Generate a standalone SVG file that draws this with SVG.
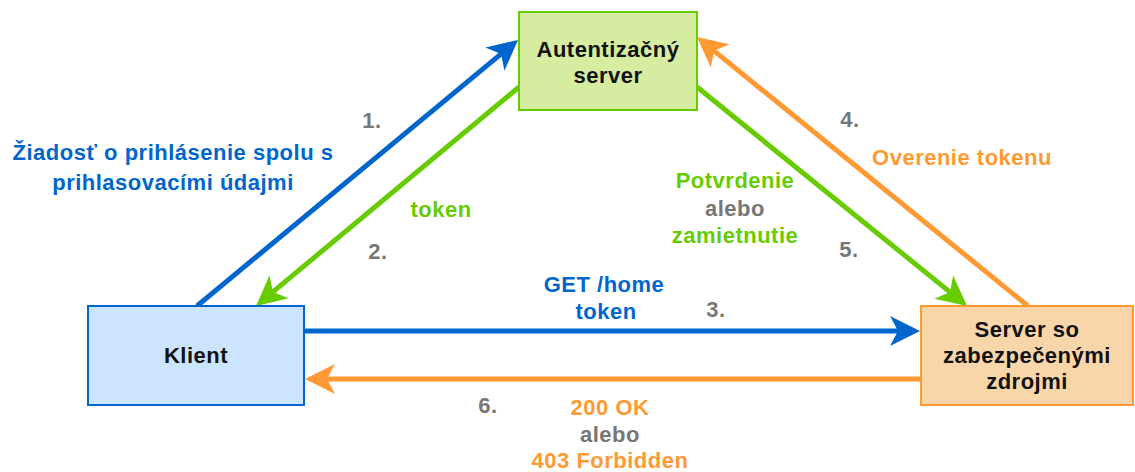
<svg xmlns="http://www.w3.org/2000/svg" width="1135" height="472" viewBox="0 0 1135 472">
  <defs>
    <style>
      text { font-family: "Liberation Sans", Arial, Helvetica, sans-serif; font-weight: bold; font-size: 22px; letter-spacing: 0.5px; text-anchor: middle; }
      .dark { fill: #111111; }
      .blue { fill: #0066cc; }
      .green { fill: #66cc00; }
      .orange { fill: #ff9933; }
      .gray { fill: #777777; }
      .edge { fill: none; stroke-width: 5; }
      .e-blue { stroke: #0066cc; marker-end: url(#head-blue); }
      .e-green { stroke: #66cc00; marker-end: url(#head-green); }
      .e-orange { stroke: #ff9933; marker-end: url(#head-orange); }
    </style>
    <!-- concave arrowheads; the tip sits 20px beyond the line end -->
    <marker id="head-blue" viewBox="-12 -17 34 34" refX="0" refY="0" markerWidth="34" markerHeight="34" markerUnits="userSpaceOnUse" orient="auto">
      <path d="M20,0 L-10,-15 L-2,0 L-10,15 Z" fill="#0066cc"/>
    </marker>
    <marker id="head-green" viewBox="-12 -17 34 34" refX="0" refY="0" markerWidth="34" markerHeight="34" markerUnits="userSpaceOnUse" orient="auto">
      <path d="M20,0 L-10,-15 L-2,0 L-10,15 Z" fill="#66cc00"/>
    </marker>
    <marker id="head-orange" viewBox="-12 -17 34 34" refX="0" refY="0" markerWidth="34" markerHeight="34" markerUnits="userSpaceOnUse" orient="auto">
      <path d="M20,0 L-10,-15 L-2,0 L-10,15 Z" fill="#ff9933"/>
    </marker>
  </defs>

  <rect width="1135" height="472" fill="#ffffff"/>

  <!-- connectors -->
  <g id="connectors">
    <line class="edge e-blue" x1="197" y1="306" x2="502.6" y2="52.7"/>
    <line class="edge e-green" x1="519" y1="87" x2="271.4" y2="293.2"/>
    <line class="edge e-blue" x1="304" y1="331" x2="900" y2="331"/>
    <line class="edge e-orange" x1="1028" y1="306" x2="712.5" y2="49.6"/>
    <line class="edge e-green" x1="697" y1="87" x2="951.5" y2="293.4"/>
    <line class="edge e-orange" x1="921" y1="379" x2="325" y2="379"/>
  </g>

  <!-- nodes -->
  <g id="auth-server">
    <rect x="519" y="12" width="178" height="98" fill="#d5eca1" stroke="#66cc00" stroke-width="2"/>
    <text class="dark" x="608" y="57">Autentizačný</text>
    <text class="dark" x="608" y="83">server</text>
  </g>
  <g id="client">
    <rect x="88" y="306" width="216" height="99" fill="#cce5ff" stroke="#0066cc" stroke-width="2"/>
    <text class="dark" x="196" y="363">Klient</text>
  </g>
  <g id="resource-server">
    <rect x="921" y="306" width="212" height="99" fill="#f9d6aa" stroke="#ff9933" stroke-width="2"/>
    <text class="dark" x="1027" y="337">Server so</text>
    <text class="dark" x="1027" y="363">zabezpečenými</text>
    <text class="dark" x="1027" y="389">zdrojmi</text>
  </g>

  <!-- connector labels -->
  <g id="labels">
    <text class="blue" x="173" y="160">Žiadosť o prihlásenie spolu s</text>
    <text class="blue" x="173" y="190">prihlasovacími údajmi</text>
    <text class="gray" x="372" y="128">1.</text>

    <text class="green" x="441" y="217">token</text>
    <text class="gray" x="378" y="259">2.</text>

    <text class="blue" x="604" y="292">GET /home</text>
    <text class="blue" x="606" y="319">token</text>
    <text class="gray" x="716" y="317">3.</text>

    <text class="gray" x="850" y="127">4.</text>
    <text class="orange" x="962" y="165">Overenie tokenu</text>

    <text class="green" x="735" y="188">Potvrdenie</text>
    <text class="gray" x="735" y="216">alebo</text>
    <text class="green" x="735" y="243">zamietnutie</text>
    <text class="gray" x="849" y="257">5.</text>

    <text class="gray" x="488" y="413">6.</text>
    <text class="orange" x="610" y="415">200 OK</text>
    <text class="gray" x="610" y="442">alebo</text>
    <text class="orange" x="610" y="468">403 Forbidden</text>
  </g>
</svg>
